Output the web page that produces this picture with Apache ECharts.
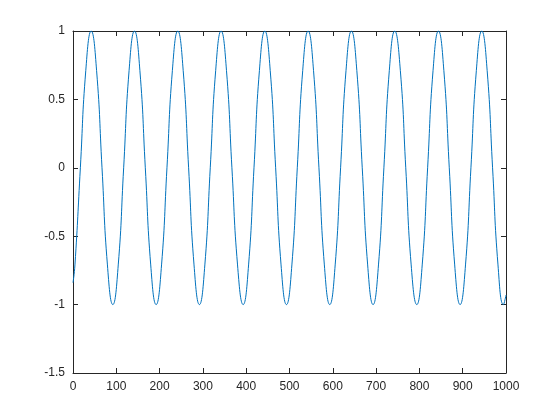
<!DOCTYPE html>
<html>
<head>
<meta charset="utf-8">
<script src="https://cdn.jsdelivr.net/npm/echarts@6/dist/echarts.min.js"></script>
<style>
  html, body { margin: 0; padding: 0; background: #fff; }
  #chart { width: 560px; height: 420px; }
</style>
</head>
<body>
<div id="chart"></div>
<script>
// sample positions (peaks, troughs, crossings, half-way points)
const xs = [
  0, 4.5, 17, 29.5, 42, 54.5, 67, 79.5, 92,
  104.5, 117, 129.5, 142, 154.5, 167, 179.5, 192,
  204.5, 217, 229.5, 242, 254.5, 267, 279.5, 292,
  304.5, 317, 329.5, 342, 354.5, 367, 380, 393,
  405.5, 418, 430.5, 443, 455.5, 468, 480.5, 493,
  505.5, 518, 530.5, 543, 555.5, 568, 580.5, 593,
  605.5, 618, 630.5, 643, 655.5, 668, 680.5, 693,
  705.5, 718, 730.5, 743, 756, 768.5, 781, 794,
  806.5, 819, 831.5, 844, 856.5, 869, 881.5, 894,
  906.5, 919, 931.5, 944, 956.5, 969, 981.5, 994,
  1000
];
const ys = [
  -0.84, -0.71, 0, 0.71, 1, 0.71, 0, -0.71, -1,
  -0.71, 0, 0.71, 1, 0.71, 0, -0.71, -1,
  -0.71, 0, 0.71, 1, 0.71, 0, -0.71, -1,
  -0.71, 0, 0.71, 1, 0.71, 0, -0.71, -1,
  -0.71, 0, 0.71, 1, 0.71, 0, -0.71, -1,
  -0.71, 0, 0.71, 1, 0.71, 0, -0.71, -1,
  -0.71, 0, 0.71, 1, 0.71, 0, -0.71, -1,
  -0.71, 0, 0.71, 1, 0.71, 0, -0.71, -1,
  -0.71, 0, 0.71, 1, 0.71, 0, -0.71, -1,
  -0.71, 0, 0.71, 1, 0.71, 0, -0.71, -1,
  -0.93
];
const xRange = [0, 1000, 100];
const yRange = [-1.5, 1, 0.5];

const axisColor = "#262626";
const font = "Liberation Sans";

const chart = echarts.init(document.getElementById("chart"), null, { renderer: "canvas" });

function axisBase(extra) {
  return Object.assign({
    type: "value",
    axisLine: { show: true, onZero: false, lineStyle: { color: axisColor, width: 1 } },
    axisTick: { show: true, inside: true, length: 5, lineStyle: { color: axisColor } },
    splitLine: { show: false },
    axisLabel: {
      color: axisColor, fontFamily: font, fontSize: 12, margin: 8,
      formatter: v => String(v),
    },
  }, extra);
}

chart.setOption({
  animation: false,
  grid: { left: 73, right: 54, top: 31, bottom: 47 },
  xAxis: [
    axisBase({ min: xRange[0], max: xRange[1], interval: xRange[2], position: "bottom" }),
    axisBase({ min: xRange[0], max: xRange[1], interval: xRange[2], position: "top", axisLabel: { show: false } }),
  ],
  yAxis: [
    axisBase({ min: yRange[0], max: yRange[1], interval: yRange[2], position: "left" }),
    axisBase({ min: yRange[0], max: yRange[1], interval: yRange[2], position: "right", axisLabel: { show: false } }),
  ],
  series: [
    {
      type: "line",
      data: xs.map((x, i) => [x, ys[i]]),
      smooth: 0.5,
      showSymbol: false,
      clip: true,
      lineStyle: { color: "#0072BD", width: 1 },
    },
  ],
});
</script>
</body>
</html>
